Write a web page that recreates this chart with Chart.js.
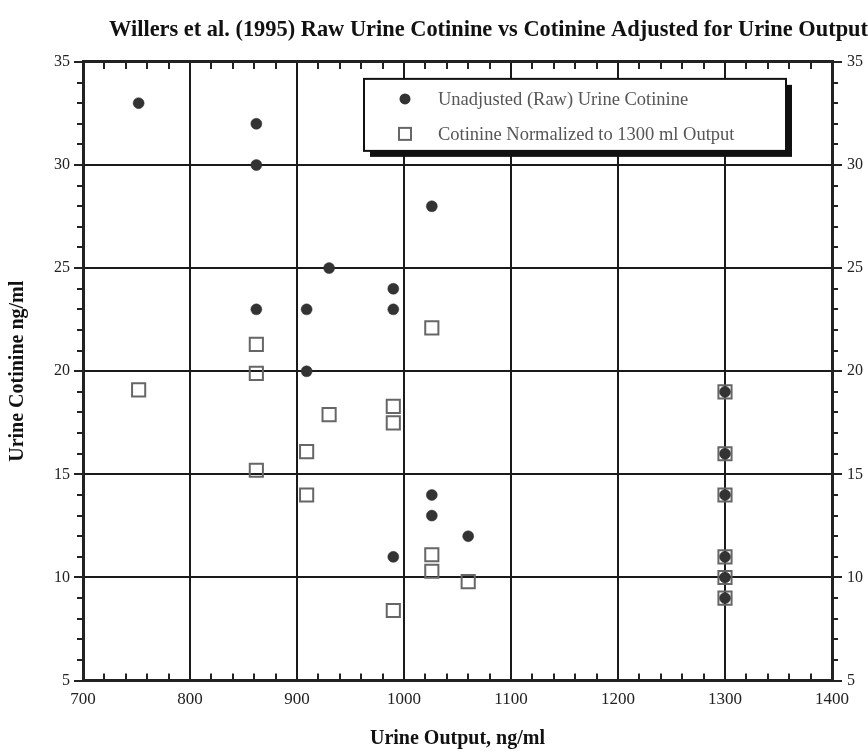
<!DOCTYPE html>
<html>
<head>
<meta charset="utf-8">
<script src="https://cdn.jsdelivr.net/npm/chart.js@4"></script>
<style>
  html, body { margin: 0; padding: 0; background: #fff; }
  #wrap { width: 868px; height: 754px; }
</style>
</head>
<body>
<div id="wrap"><canvas id="c" width="868" height="754"></canvas></div>
<script>
// ---- data ----
const rawOutput   = [752, 862, 862, 862, 909, 909, 930, 990, 990, 990, 1026, 1026, 1026, 1060, 1300, 1300, 1300, 1300, 1300, 1300];
const rawCotinine = [33, 32, 30, 23, 23, 20, 25, 24, 23, 11, 28, 14, 13, 12, 19, 16, 14, 11, 10, 9];
const normOutput   = [752, 862, 862, 862, 909, 909, 930, 990, 990, 990, 1026, 1026, 1026, 1060, 1300, 1300, 1300, 1300, 1300, 1300];
const normCotinine = [19.1, 21.3, 19.9, 15.2, 16.1, 14.0, 17.9, 18.3, 17.5, 8.4, 22.1, 11.1, 10.3, 9.8, 19, 16, 14, 11, 10, 9];
const seriesLabels = ['Unadjusted (Raw) Urine Cotinine', 'Cotinine Normalized to 1300 ml Output'];
const titleText = 'Willers et al. (1995) Raw Urine Cotinine vs Cotinine Adjusted for Urine Output';
const xTitle = 'Urine Output, ng/ml';
const yTitle = 'Urine Cotinine ng/ml';
const xRange = [700, 1400];
const yRange = [5, 35];

const SERIF = '"Liberation Serif", "Times New Roman", serif';

function pts(xs, ys) { return xs.map((x, i) => ({ x: x, y: ys[i] })); }
const plainNum = (v) => String(v);

const minorTicks = {
  id: 'minorTicks',
  afterDraw(chart) {
    const ctx = chart.ctx;
    const xs = chart.scales.x, ys = chart.scales.y;
    const a = chart.chartArea;
    ctx.save();
    ctx.strokeStyle = '#222';
    ctx.lineWidth = 2;
    ctx.beginPath();
    for (let v = yRange[0]; v <= yRange[1]; v += 1) {
      if (v % 5 === 0) continue;
      const py = Math.round(ys.getPixelForValue(v));
      ctx.moveTo(a.left - 6, py); ctx.lineTo(a.left, py);
      ctx.moveTo(a.right, py); ctx.lineTo(a.right + 6, py);
    }
    for (let v = xRange[0]; v <= xRange[1]; v += 20) {
      if (v % 100 === 0) continue;
      const px = Math.round(xs.getPixelForValue(v));
      ctx.moveTo(px, a.bottom); ctx.lineTo(px, a.bottom - 7);
      ctx.moveTo(px, a.top); ctx.lineTo(px, a.top + 7);
    }
    ctx.stroke();
    ctx.restore();
  }
};

const boxLegend = {
  id: 'boxLegend',
  afterDraw(chart) {
    const ctx = chart.ctx;
    const a = chart.chartArea;
    const L = a.left + 281, T = a.top + 17, W = 422, H = 72;
    ctx.save();
    ctx.fillStyle = '#111';
    ctx.fillRect(L + 6, T + 6, W, H);
    ctx.fillStyle = '#fff';
    ctx.fillRect(L, T, W, H);
    ctx.strokeStyle = '#111';
    ctx.lineWidth = 2;
    ctx.strokeRect(L, T, W, H);
    const ds = chart.data.datasets;
    ctx.fillStyle = ds[0].backgroundColor;
    ctx.beginPath();
    ctx.arc(L + 41, T + 20, 5.5, 0, Math.PI * 2);
    ctx.fill();
    ctx.strokeStyle = ds[1].borderColor;
    ctx.lineWidth = 2;
    ctx.strokeRect(L + 35, T + 49, 12, 12);
    ctx.fillStyle = '#555';
    ctx.font = '18.5px ' + SERIF;
    ctx.textBaseline = 'middle';
    ctx.fillText(ds[0].label, L + 74, T + 21);
    ctx.fillText(ds[1].label, L + 74, T + 56);
    ctx.restore();
  }
};

new Chart(document.getElementById('c'), {
  type: 'scatter',
  data: {
    datasets: [
      {
        label: seriesLabels[0],
        data: pts(rawOutput, rawCotinine),
        pointStyle: 'circle',
        pointRadius: 5.5,
        pointHoverRadius: 5.5,
        backgroundColor: '#333',
        borderColor: '#333',
        borderWidth: 0.5
      },
      {
        label: seriesLabels[1],
        data: pts(normOutput, normCotinine),
        pointStyle: 'rect',
        pointRadius: 9.3,
        pointHoverRadius: 9.3,
        backgroundColor: 'rgba(255,255,255,0)',
        borderColor: '#666',
        borderWidth: 2
      }
    ]
  },
  options: {
    responsive: false,
    animation: false,
    events: [],
    layout: { padding: { left: 6, right: 0, top: 2, bottom: 3 } },
    plugins: {
      legend: { display: false },
      tooltip: { enabled: false },
      title: {
        display: true,
        text: titleText,
        align: 'end',
        color: '#111',
        font: { family: SERIF, size: 22.4, weight: 'bold' },
        padding: { top: 15, bottom: 18 }
      }
    },
    scales: {
      x: {
        type: 'linear',
        position: 'bottom',
        min: xRange[0], max: xRange[1],
        ticks: { stepSize: 100, color: '#222', font: { family: SERIF, size: 17 }, padding: 9, callback: plainNum },
        grid: { color: '#1a1a1a', lineWidth: 2, drawTicks: false },
        border: { color: '#222', width: 3 },
        title: { display: true, text: xTitle, color: '#111', font: { family: SERIF, size: 20, weight: 'bold' }, padding: { top: 8, bottom: 0 } }
      },
      xTop: {
        type: 'linear',
        position: 'top',
        min: xRange[0], max: xRange[1],
        ticks: { display: false },
        grid: { display: false, drawTicks: false },
        border: { color: '#222', width: 3 }
      },
      y: {
        type: 'linear',
        position: 'left',
        min: yRange[0], max: yRange[1],
        ticks: { stepSize: 5, color: '#222', font: { family: SERIF, size: 16 }, padding: 4, callback: plainNum },
        grid: { color: '#1a1a1a', lineWidth: 2, tickLength: 9, tickColor: '#222' },
        border: { color: '#222', width: 3 },
        title: { display: true, text: yTitle, color: '#111', font: { family: SERIF, size: 20, weight: 'bold' }, padding: { top: 0, bottom: 20 } }
      },
      yRight: {
        type: 'linear',
        position: 'right',
        min: yRange[0], max: yRange[1],
        ticks: { stepSize: 5, color: '#222', font: { family: SERIF, size: 16 }, padding: 5, callback: plainNum },
        grid: { drawOnChartArea: false, tickLength: 10, tickColor: '#222', lineWidth: 2 },
        border: { color: '#222', width: 3 }
      }
    }
  },
  plugins: [minorTicks, boxLegend]
});
</script>
</body>
</html>
